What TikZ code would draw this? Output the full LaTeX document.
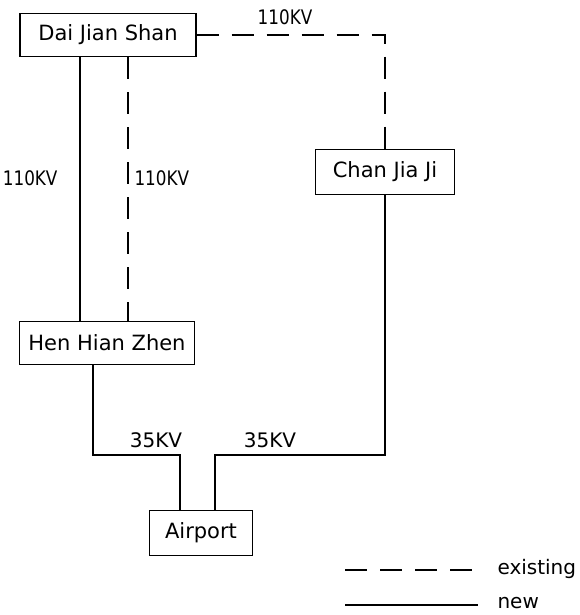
\documentclass[tikz,border=0pt]{standalone}
\usepackage{fontspec}
\setmainfont{DejaVu Sans}
\usetikzlibrary{positioning,calc}

\newcommand{\narrowkv}[1]{\scalebox{0.84}[1]{#1}}

\begin{document}
\begin{tikzpicture}[x=1pt,y=-1pt,
  station/.style={draw, line width=1.2pt, font=\fontsize{21}{25}\selectfont, inner sep=0pt, minimum height=43pt},
  kv/.style={font=\fontsize{20}{24}\selectfont},
  old line/.style={line width=1.3pt, dash pattern=on 22pt off 13pt},
  new line/.style={line width=1.3pt}]
  \useasboundingbox (0,0) rectangle (580,615);

  % Substations
  \node[station, minimum width=176pt] (dai) at (108,35) {Dai Jian Shan};
  \node[station, minimum width=139pt, minimum height=45pt] (chan) at (385,172) {Chan Jia Ji};
  \node[station, minimum width=175pt] (hen) at (107,343) {Hen Hian Zhen};
  \node[station, minimum width=103pt, minimum height=45pt] (airport) at (201,533) {Airport};

  % 110KV lines
  \draw[old line] (dai.east) -| (chan.north);
  \draw[new line] ([xshift=-28pt]dai.south) -- ([xshift=-27pt]hen.north);
  \draw[old line] ([xshift=20pt]dai.south) -- ([xshift=21pt]hen.north);

  % 35KV lines
  \coordinate (hen out) at ([xshift=-14pt]hen.south);
  \coordinate (air left) at ([xshift=-21pt]airport.north);
  \coordinate (air right) at ([xshift=14pt]airport.north);
  \draw[new line] (hen out) -- (hen out |- 0,455) -| (air left);
  \draw[new line] (chan.south) -- (chan.south |- 0,455) -| (air right);

  % Labels
  \node[kv] (l1) at (285,17) {\narrowkv{110KV}};
  \node[kv, anchor=east] (l2) at (61,178) {\narrowkv{110KV}};
  \node[kv, anchor=west] (l3) at (131,178) {\narrowkv{110KV}};
  \node[kv] (l4) at (156,440) {35KV};
  \node[kv] (l5) at (270,440) {35KV};

  % Legend
  \coordinate (ex a) at (345,570);
  \coordinate (ex b) at (478,570);
  \coordinate (nw a) at (345,605);
  \coordinate (nw b) at (478,605);
  \draw[old line] (ex a) -- (ex b);
  \draw[new line] (nw a) -- (nw b);
  \node[kv, anchor=west] (ex) at (494,569) {existing};
  \node[kv, anchor=west] (nw) at (494,603) {new};
\end{tikzpicture}
\end{document}
